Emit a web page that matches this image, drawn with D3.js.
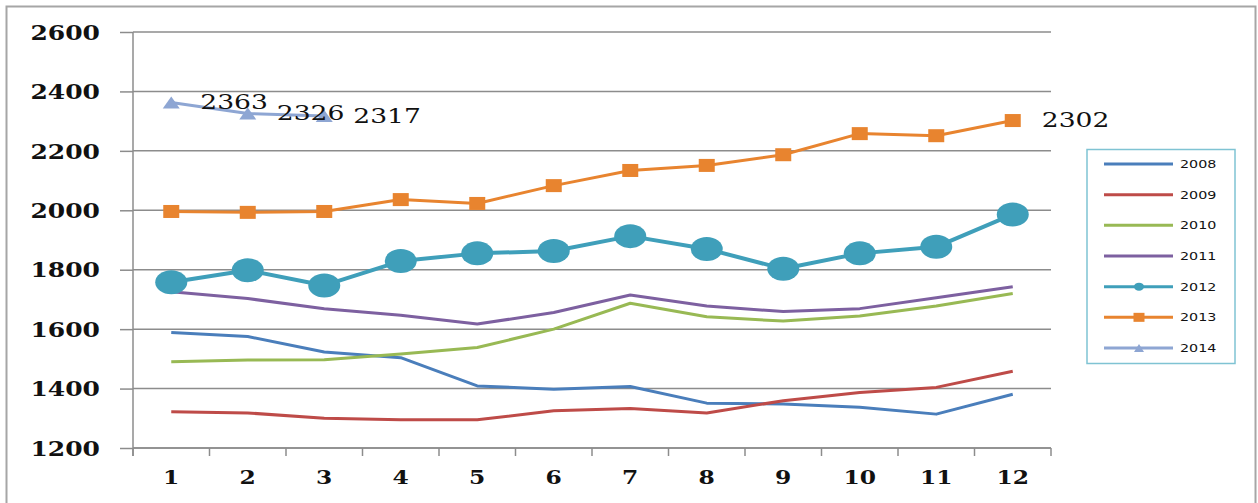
<!DOCTYPE html>
<html>
<head>
<meta charset="utf-8">
<script src="https://cdn.jsdelivr.net/npm/d3@7"></script>
<style>
  html, body { margin: 0; padding: 0; background: #fff; }
  svg { display: block; }
</style>
</head>
<body>
<svg id="chart" width="1258" height="503"></svg>
<script>
const months = [1,2,3,4,5,6,7,8,9,10,11,12];
const yTicks = [1200,1400,1600,1800,2000,2200,2400,2600];
const seriesNames = ["2008","2009","2010","2011","2012","2013","2014"];
const s2008 = [1589,1575,1523,1504,1409,1398,1407,1351,1348,1337,1314,1381];
const s2009 = [1322,1318,1300,1295,1295,1325,1333,1318,1359,1387,1404,1458];
const s2010 = [1490,1496,1497,1516,1538,1600,1687,1642,1627,1644,1678,1720];
const s2011 = [1726,1703,1669,1647,1617,1656,1715,1678,1659,1669,1706,1743];
const s2012 = [1758,1798,1747,1829,1855,1863,1913,1870,1803,1855,1877,1986];
const s2013 = [1996,1993,1996,2036,2023,2083,2134,2151,2187,2258,2251,2302];
const s2014 = [2363,2326,2317];
const seriesColors = ["#4a7ebb","#be4b48","#98b954","#7d60a0","#3f9fba","#e8842f","#8ea6d3"];
const seriesMarkers = ["none","none","none","none","circle","square","triangle"];

const series = seriesNames.map((n,i) => ({
  name: n,
  values: [s2008,s2009,s2010,s2011,s2012,s2013,s2014][i],
  color: seriesColors[i],
  marker: seriesMarkers[i]
}));

const svg = d3.select("#chart");

// outer frame
svg.append("rect").attr("x",6.5).attr("y",6.5).attr("width",1249).attr("height",505)
  .attr("fill","#fff").attr("stroke","#a6a6a6").attr("stroke-width",2);

const x = d3.scaleBand().domain(months).range([133,1051]);
const y = d3.scaleLinear().domain([1200,2600]).range([448,32]);
const cx = m => x(m) + x.bandwidth()/2;

// gridlines
svg.append("g").selectAll("line").data(yTicks).join("line")
  .attr("x1",133).attr("x2",1051)
  .attr("y1",d=>y(d)).attr("y2",d=>y(d))
  .attr("stroke","#8c8c8c").attr("stroke-width",1.5);

// y axis
const gy = svg.append("g").attr("transform","translate(133,0)")
  .call(d3.axisLeft(y).tickValues(yTicks).tickSize(13).tickSizeOuter(0).tickFormat(d3.format("d")));
gy.select(".domain").attr("stroke","#8c8c8c").attr("stroke-width",1.5).attr("d","M0,32V456");
gy.selectAll(".tick line").attr("stroke","#8c8c8c").attr("stroke-width",1.5);
gy.selectAll(".tick text")
  .attr("x",0).attr("dy",null)
  .attr("dominant-baseline","central")
  .attr("transform","translate(-33,0) scale(1.22,1)")
  .attr("font-family","DejaVu Serif").attr("font-weight","bold")
  .attr("font-size",20.5).attr("fill","#111").attr("text-anchor","end");

// x axis
const gx = svg.append("g").attr("transform","translate(0,448)")
  .call(d3.axisBottom(x).tickSize(0).tickSizeOuter(0));
gx.select(".domain").remove();
gx.selectAll(".tick text")
  .attr("y",0).attr("dy",null)
  .attr("dominant-baseline","central")
  .attr("transform","translate(0,30) scale(1.3,1)")
  .attr("font-family","DejaVu Serif").attr("font-weight","bold")
  .attr("font-size",18).attr("fill","#111");
svg.append("line").attr("x1",133).attr("x2",1051).attr("y1",448).attr("y2",448)
  .attr("stroke","#8c8c8c").attr("stroke-width",1.5);
const bounds = months.map(m => x(m)).concat([x(12)+x.bandwidth()]);
svg.append("g").selectAll("line").data(bounds).join("line")
  .attr("x1",d=>d).attr("x2",d=>d).attr("y1",448).attr("y2",456)
  .attr("stroke","#8c8c8c").attr("stroke-width",1.5);

// lines
const line = d3.line().x((d,i)=>cx(months[i])).y(d=>y(d));
const gs = svg.append("g");
series.forEach(s => {
  gs.append("path").datum(s.values)
    .attr("d",line).attr("fill","none")
    .attr("stroke",s.color)
    .attr("stroke-width", s.marker==="circle" ? 4 : 3)
    .attr("stroke-linejoin","round");
});

function drawMarker(g, type, px, py, color, big) {
  if (type === "circle") {
    g.append("ellipse").attr("cx",px).attr("cy",py)
      .attr("rx", big ? 16 : 5).attr("ry", big ? 12 : 4).attr("fill",color);
  } else if (type === "square") {
    const w = big ? 16 : 11, h = big ? 13 : 9;
    g.append("rect").attr("x",px-w/2).attr("y",py-h/2).attr("width",w).attr("height",h).attr("fill",color);
  } else if (type === "triangle") {
    const w = big ? 17 : 10, h = big ? 12 : 8;
    g.append("path").attr("d",`M${px-w/2},${py+h/2}L${px},${py-h/2}L${px+w/2},${py+h/2}Z`).attr("fill",color);
  }
}

series.forEach(s => {
  if (s.marker === "none") return;
  s.values.forEach((v,i) => drawMarker(gs, s.marker, cx(months[i]), y(v), s.color, true));
});

// data labels
function label(px, py, txt) {
  svg.append("text")
    .attr("transform",`translate(${px+29},${py}) scale(1.33,1)`)
    .attr("dominant-baseline","central")
    .attr("font-family","DejaVu Serif").attr("font-size",20).attr("fill","#111")
    .text(txt);
}
s2014.forEach((v,i) => label(cx(months[i]), y(v), d3.format("d")(v)));
label(cx(months[11]), y(s2013[11]), d3.format("d")(s2013[11]));

// legend
const lg = svg.append("g");
lg.append("rect").attr("x",1087).attr("y",149.5).attr("width",148).attr("height",214)
  .attr("fill","#fff").attr("stroke","#7fc3d3").attr("stroke-width",1.5);
const legY = d3.scalePoint().domain(seriesNames).range([164,348]);
series.forEach(s => {
  const ly = legY(s.name);
  lg.append("line").attr("x1",1104).attr("x2",1173).attr("y1",ly).attr("y2",ly)
    .attr("stroke",s.color).attr("stroke-width",3);
  drawMarker(lg, s.marker, 1139, ly, s.color, false);
  lg.append("text")
    .attr("transform",`translate(1180,${ly}) scale(1.3,1)`)
    .attr("dominant-baseline","central")
    .attr("font-family","DejaVu Sans").attr("font-size",11).attr("fill","#111")
    .text(s.name);
});
</script>
</body>
</html>
